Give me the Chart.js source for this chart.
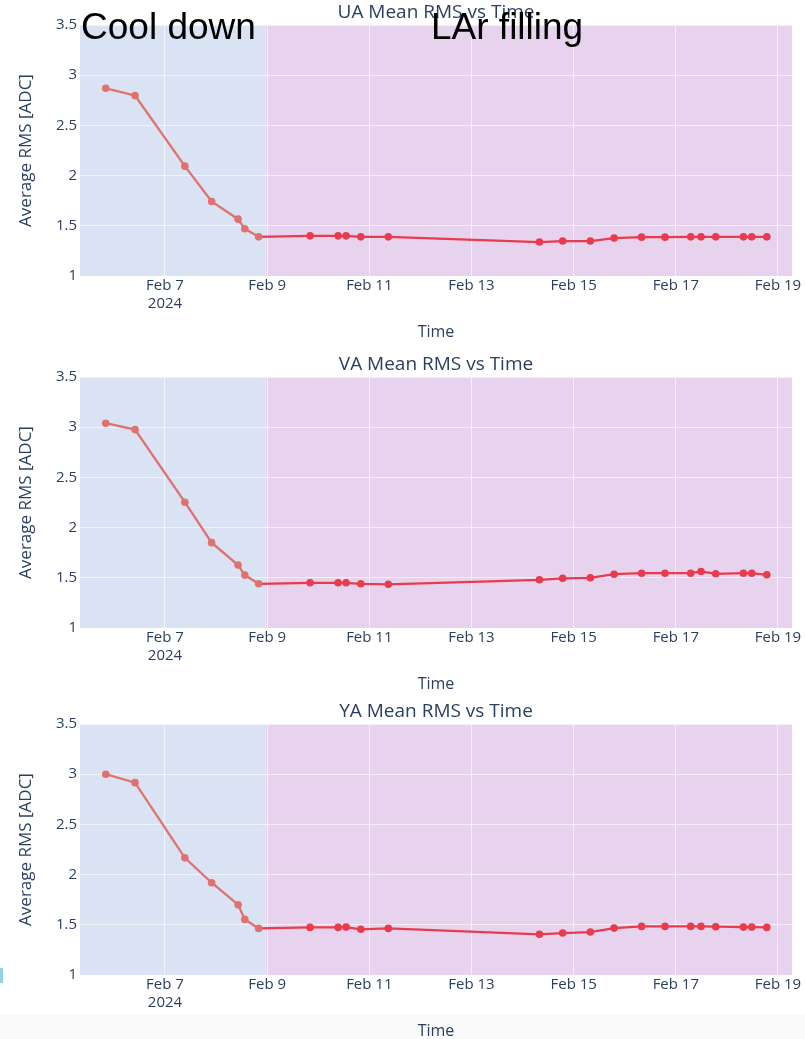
<!DOCTYPE html>
<html><head><meta charset="utf-8">
<script src="https://cdn.jsdelivr.net/npm/chart.js@4"></script>
<style>
body{margin:0;background:#fff;width:805px;height:1039px;overflow:hidden;position:relative}
.c{position:absolute;left:0;width:805px;height:340px;z-index:2}
.note{position:absolute;font-family:'Liberation Sans',Arial,sans-serif;font-size:37px;line-height:37px;color:#000;z-index:5;white-space:nowrap}
.foot{position:absolute;left:0;top:1015px;width:805px;height:24px;background:#fafafa;z-index:1}
.mark{position:absolute;left:0;top:968px;width:3px;height:15px;background:#8fd3e6;z-index:3}
</style></head><body>
<div class="foot"></div>
<div class="mark"></div>
<div class="note" style="left:81px;top:8px">Cool down</div>
<div class="note" style="left:431px;top:8px">LAr filling</div>
<div class="c" style="top:0px"><canvas id="ua"></canvas></div>
<div class="c" style="top:352px"><canvas id="va"></canvas></div>
<div class="c" style="top:699px"><canvas id="ya"></canvas></div>
<script>
// ---- data ----
const times = ['2024-02-05T20:10','2024-02-06T09:55','2024-02-07T09:20','2024-02-07T21:55','2024-02-08T10:20','2024-02-08T13:30','2024-02-08T20:00','2024-02-09T20:10','2024-02-10T09:20','2024-02-10T13:05','2024-02-10T20:00','2024-02-11T08:55','2024-02-14T07:55','2024-02-14T18:50','2024-02-15T07:50','2024-02-15T19:00','2024-02-16T07:55','2024-02-16T18:55','2024-02-17T07:00','2024-02-17T11:50','2024-02-17T18:45','2024-02-18T07:45','2024-02-18T11:40','2024-02-18T18:45'];
const uaRms = [2.87,2.797,2.094,1.742,1.566,1.47,1.39,1.40,1.40,1.40,1.39,1.39,1.338,1.348,1.348,1.378,1.387,1.387,1.39,1.39,1.39,1.39,1.39,1.39];
const vaRms = [3.04,2.976,2.253,1.85,1.627,1.527,1.44,1.45,1.45,1.45,1.44,1.435,1.48,1.495,1.50,1.536,1.546,1.546,1.546,1.563,1.54,1.546,1.546,1.53];
const yaRms = [3.0,2.916,2.167,1.919,1.70,1.554,1.464,1.474,1.474,1.477,1.455,1.464,1.405,1.418,1.428,1.467,1.484,1.484,1.484,1.484,1.481,1.477,1.477,1.474];
const tickDates = ['2024-02-07','2024-02-09','2024-02-11','2024-02-13','2024-02-15','2024-02-17','2024-02-19'];
const tickLabels = [['Feb 7','2024'],'Feb 9','Feb 11','Feb 13','Feb 15','Feb 17','Feb 19'];
const yTicks = [1,1.5,2,2.5,3,3.5];
const yTickLabels = ['1','1.5','2','2.5','3','3.5'];
const xRange = ['2024-02-05T08:04','2024-02-19T06:35'];
const phaseBoundary = '2024-02-08T23:20';
const titles = ['UA Mean RMS vs Time','VA Mean RMS vs Time','YA Mean RMS vs Time'];

// ---- helpers ----
const day0 = Date.UTC(2024,1,0);
const toDay = s => (Date.parse(s + (s.length===10?'T00:00':'') + 'Z') - day0)/86400000;
const boundaryDay = toDay(phaseBoundary);
const COOL_BG = '#dae3f3', FILL_BG = '#e8d3ef';
const COOL_LINE = '#e0716f', FILL_LINE = '#e83b4d';
const TXT = '#2a3f5f';
const FONT = "'Open Sans', sans-serif";

const phasePlugin = {
  id:'phases',
  beforeDraw(chart){
    const {ctx, chartArea:{left,right,top,bottom}, scales:{x}} = chart;
    const b = x.getPixelForValue(boundaryDay);
    ctx.save();
    ctx.fillStyle = COOL_BG; ctx.fillRect(left, top, b-left, bottom-top);
    ctx.fillStyle = FILL_BG; ctx.fillRect(b, top, right-b, bottom-top);
    ctx.restore();
  }
};

function make(id, title, values){
  const pts = times.map((t,i)=>({x:toDay(t), y:values[i]}));
  const tickVals = tickDates.map(toDay);
  new Chart(document.getElementById(id), {
    type:'line',
    data:{datasets:[{
      data:pts,
      borderWidth:2.3,
      pointRadius:3.8,
      pointHoverRadius:3.8,
      pointBorderWidth:0,
      pointBackgroundColor: c => (c.raw && c.raw.x <= boundaryDay) ? COOL_LINE : FILL_LINE,
      borderColor: FILL_LINE,
      segment:{borderColor: c => c.p1.parsed.x <= boundaryDay ? COOL_LINE : FILL_LINE},
      tension:0
    }]},
    options:{
      responsive:true, maintainAspectRatio:false, animation:false,
      layout:{padding:{left:0,right:13,top:0,bottom:0}},
      plugins:{
        legend:{display:false}, tooltip:{enabled:false},
        title:{display:true, text:title, fullSize:false, color:TXT,
          font:{family:FONT, size:19, weight:'normal', lineHeight:1.2},
          padding:{top:1,bottom:1.2}}
      },
      scales:{
        x:{type:'linear', min:toDay(xRange[0]), max:toDay(xRange[1]),
          afterBuildTicks: s => { s.ticks = tickVals.map(v=>({value:v})); },
          afterFit: s => { s.height = 64; },
          ticks:{color:TXT, font:{family:FONT,size:15,lineHeight:1.2}, padding:1, maxRotation:0, autoSkip:false,
            callback:(v,i)=>tickLabels[i]},
          grid:{color:'rgba(255,255,255,0.6)', lineWidth:1, drawTicks:false},
          border:{display:false},
          title:{display:true, text:'Time', color:TXT, font:{family:FONT,size:16,lineHeight:1}, padding:{top:0,bottom:0}}
        },
        y:{min:1, max:3.5,
          afterBuildTicks: s => { s.ticks = yTicks.map(v=>({value:v})); },
          afterFit: s => { s.width = 80; },
          ticks:{color:TXT, font:{family:FONT,size:15}, padding:3, callback:(v,i)=>yTickLabels[i]},
          grid:{color:'rgba(255,255,255,0.6)', lineWidth:1, drawTicks:false},
          border:{display:false},
          title:{display:true, text:'Average RMS [ADC]', color:TXT, font:{family:FONT,size:17,lineHeight:1.2}, padding:{top:16,bottom:0}}
        }
      }
    },
    plugins:[phasePlugin]
  });
}
make('ua', titles[0], uaRms);
make('va', titles[1], vaRms);
make('ya', titles[2], yaRms);
</script>
</body></html>
